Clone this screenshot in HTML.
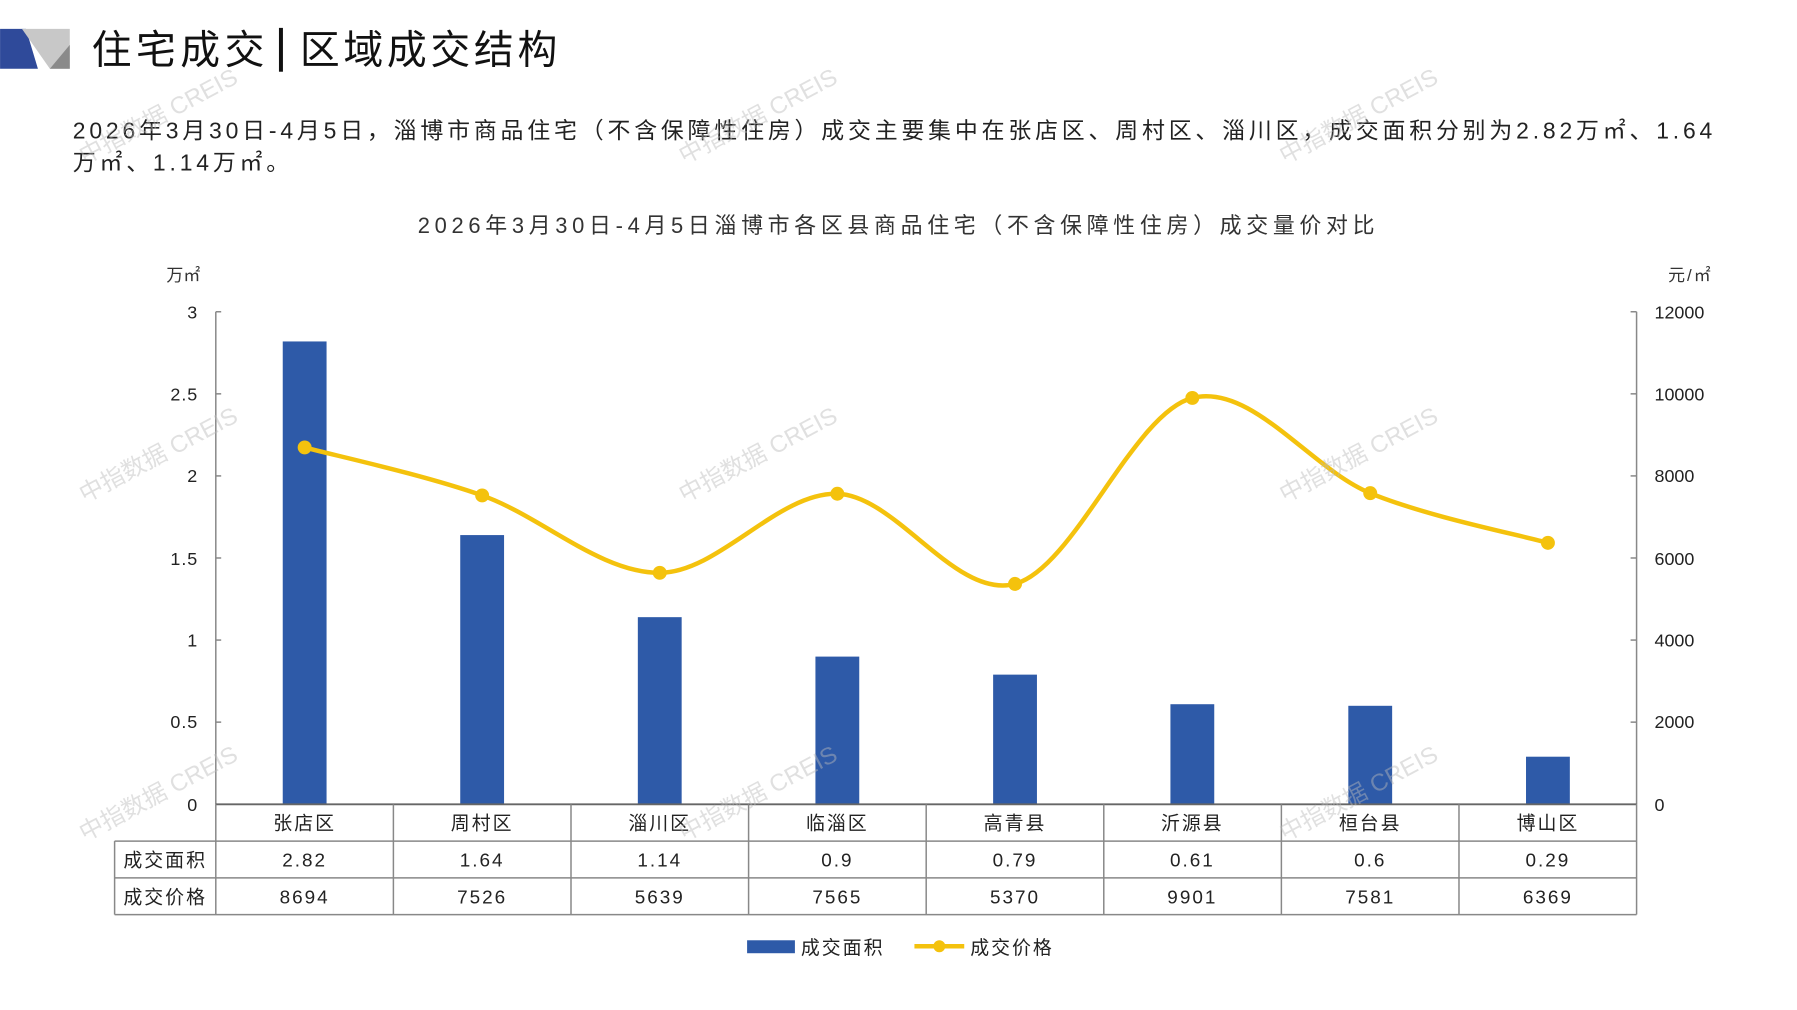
<!DOCTYPE html>
<html><head><meta charset="utf-8"><style>
html,body{margin:0;padding:0;background:#fff;}
svg{display:block;font-family:"Liberation Sans","Noto Sans CJK SC",sans-serif;}
</style></head><body>
<svg width="1797" height="1010" viewBox="0 0 1804 1014" xmlns="http://www.w3.org/2000/svg">
<polygon points="0,29 26,29 38,69 0,69" fill="#2f4a9a"/>
<polygon points="22,29 70,29 70,69 50,69" fill="#c8c8c8"/>
<polygon points="50,69 70,45 70,69" fill="#8a8a8a"/>
<text x="92" y="64" font-size="40" fill="#111" letter-spacing="4.5">住宅成交</text>
<rect x="280" y="28" width="4" height="44" fill="#111"/>
<text x="301" y="64" font-size="40" fill="#111" letter-spacing="3.7">区域成交结构</text>
<text x="73" y="139" font-size="23" fill="#222" letter-spacing="3.85">2026年3月30日-4月5日，淄博市商品住宅（不含保障性住房）成交主要集中在张店区、周村区、淄川区，成交面积分别为2.82万㎡、1.64</text>
<text x="73" y="171" font-size="23" fill="#222" letter-spacing="3.85">万㎡、1.14万㎡。</text>
<text x="902" y="234" font-size="22" fill="#333" text-anchor="middle" letter-spacing="4.7">2026年3月30日-4月5日淄博市各区县商品住宅（不含保障性住房）成交量价对比</text>
<text x="184" y="282" font-size="17" fill="#333" text-anchor="middle">万㎡</text>
<text x="1697" y="282" font-size="17" fill="#333" text-anchor="middle" letter-spacing="2">元/㎡</text>
<g stroke="#888" stroke-width="1.5">
<line x1="216.6" y1="313" x2="216.6" y2="807.5"/>
<line x1="1643" y1="313" x2="1643" y2="807.5"/>
<line x1="216.6" y1="313" x2="222" y2="313"/><line x1="216.6" y1="395.4" x2="222" y2="395.4"/><line x1="216.6" y1="477.8" x2="222" y2="477.8"/><line x1="216.6" y1="560.2" x2="222" y2="560.2"/><line x1="216.6" y1="642.6" x2="222" y2="642.6"/><line x1="216.6" y1="725" x2="222" y2="725"/>
<line x1="1637" y1="313" x2="1643" y2="313"/><line x1="1637" y1="395.4" x2="1643" y2="395.4"/><line x1="1637" y1="477.8" x2="1643" y2="477.8"/><line x1="1637" y1="560.2" x2="1643" y2="560.2"/><line x1="1637" y1="642.6" x2="1643" y2="642.6"/><line x1="1637" y1="725" x2="1643" y2="725"/>
</g>
<g font-size="18" fill="#222" text-anchor="end" letter-spacing="1">
<text x="199" y="320">3</text><text x="199" y="402">2.5</text><text x="199" y="484">2</text><text x="199" y="567">1.5</text><text x="199" y="649">1</text><text x="199" y="731">0.5</text><text x="199" y="814">0</text>
</g>
<g font-size="18" fill="#222">
<text x="1661" y="320">12000</text><text x="1661" y="402">10000</text><text x="1661" y="484">8000</text><text x="1661" y="567">6000</text><text x="1661" y="649">4000</text><text x="1661" y="731">2000</text><text x="1661" y="814">0</text>
</g>
<g fill="#2e5aa8">
<rect x="283.8" y="342.8" width="44" height="464.7"/>
<rect x="462" y="537.2" width="44" height="270.3"/>
<rect x="640.3" y="619.6" width="44" height="187.9"/>
<rect x="818.6" y="659.2" width="44" height="148.3"/>
<rect x="997" y="677.3" width="44" height="130.2"/>
<rect x="1175" y="707" width="44" height="100.5"/>
<rect x="1353.6" y="708.6" width="44" height="98.9"/>
<rect x="1532" y="759.7" width="44" height="47.8"/>
</g>
<path d="M305.8,449.2 C335.5,457.2 424.6,476.4 484,497.4 C543.4,518.4 602.9,575.4 662.3,575.1 C721.7,574.8 781.2,493.9 840.6,495.7 C900,497.6 959.6,602.2 1019,586.2 C1078.4,570.2 1137.6,414.7 1197,399.5 C1256.4,384.3 1316.2,470.9 1375.6,495.1 C1435,519.3 1524.3,536.7 1554,545" fill="none" stroke="#f4c20d" stroke-width="4.5"/>
<g fill="#f4c20d">
<circle cx="305.8" cy="449.2" r="7"/><circle cx="484" cy="497.4" r="7"/><circle cx="662.3" cy="575.1" r="7"/><circle cx="840.6" cy="495.7" r="7"/><circle cx="1019" cy="586.2" r="7"/><circle cx="1197" cy="399.5" r="7"/><circle cx="1375.6" cy="495.1" r="7"/><circle cx="1554" cy="545" r="7"/>
</g>
<g stroke="#888" stroke-width="1.5" fill="none">
<line x1="216.6" y1="807.5" x2="1643" y2="807.5" stroke="#666" stroke-width="2"/>
<line x1="115" y1="844.4" x2="1643" y2="844.4"/>
<line x1="115" y1="881.3" x2="1643" y2="881.3"/>
<line x1="115" y1="918.2" x2="1643" y2="918.2"/>
<line x1="115" y1="844.4" x2="115" y2="918.2"/>
<line x1="216.6" y1="807.5" x2="216.6" y2="918.2"/>
<line x1="394.9" y1="807.5" x2="394.9" y2="918.2"/><line x1="573.2" y1="807.5" x2="573.2" y2="918.2"/><line x1="751.5" y1="807.5" x2="751.5" y2="918.2"/><line x1="929.8" y1="807.5" x2="929.8" y2="918.2"/><line x1="1108.1" y1="807.5" x2="1108.1" y2="918.2"/><line x1="1286.4" y1="807.5" x2="1286.4" y2="918.2"/><line x1="1464.7" y1="807.5" x2="1464.7" y2="918.2"/>
<line x1="1643" y1="807.5" x2="1643" y2="918.2"/>
</g>
<g font-size="19" fill="#222" text-anchor="middle" letter-spacing="2">
<text x="305.8" y="833">张店区</text><text x="484" y="833">周村区</text><text x="662.3" y="833">淄川区</text><text x="840.6" y="833">临淄区</text><text x="1019" y="833">高青县</text><text x="1197" y="833">沂源县</text><text x="1375.6" y="833">桓台县</text><text x="1554" y="833">博山区</text>
<text x="165.8" y="870">成交面积</text>
<text x="305.8" y="870">2.82</text><text x="484" y="870">1.64</text><text x="662.3" y="870">1.14</text><text x="840.6" y="870">0.9</text><text x="1019" y="870">0.79</text><text x="1197" y="870">0.61</text><text x="1375.6" y="870">0.6</text><text x="1554" y="870">0.29</text>
<text x="165.8" y="907">成交价格</text>
<text x="305.8" y="907">8694</text><text x="484" y="907">7526</text><text x="662.3" y="907">5639</text><text x="840.6" y="907">7565</text><text x="1019" y="907">5370</text><text x="1197" y="907">9901</text><text x="1375.6" y="907">7581</text><text x="1554" y="907">6369</text>
</g>
<rect x="750" y="944" width="48" height="13" fill="#2e5aa8"/>
<text x="804" y="958" font-size="19" fill="#222" letter-spacing="2">成交面积</text>
<line x1="918" y1="950" x2="968" y2="950" stroke="#f4c20d" stroke-width="4.5"/>
<circle cx="943" cy="950" r="6" fill="#f4c20d"/>
<text x="974" y="958" font-size="19" fill="#222" letter-spacing="2">成交价格</text>
<g font-size="24" fill="#bbb" fill-opacity="0.45">
<text transform="translate(85,165) rotate(-28)">中指数据 CREIS</text>
<text transform="translate(687,165) rotate(-28)">中指数据 CREIS</text>
<text transform="translate(1290,165) rotate(-28)">中指数据 CREIS</text>
<text transform="translate(85,505) rotate(-28)">中指数据 CREIS</text>
<text transform="translate(687,505) rotate(-28)">中指数据 CREIS</text>
<text transform="translate(1290,505) rotate(-28)">中指数据 CREIS</text>
<text transform="translate(85,845) rotate(-28)">中指数据 CREIS</text>
<text transform="translate(687,845) rotate(-28)">中指数据 CREIS</text>
<text transform="translate(1290,845) rotate(-28)">中指数据 CREIS</text>
</g>
</svg>
</body></html>
